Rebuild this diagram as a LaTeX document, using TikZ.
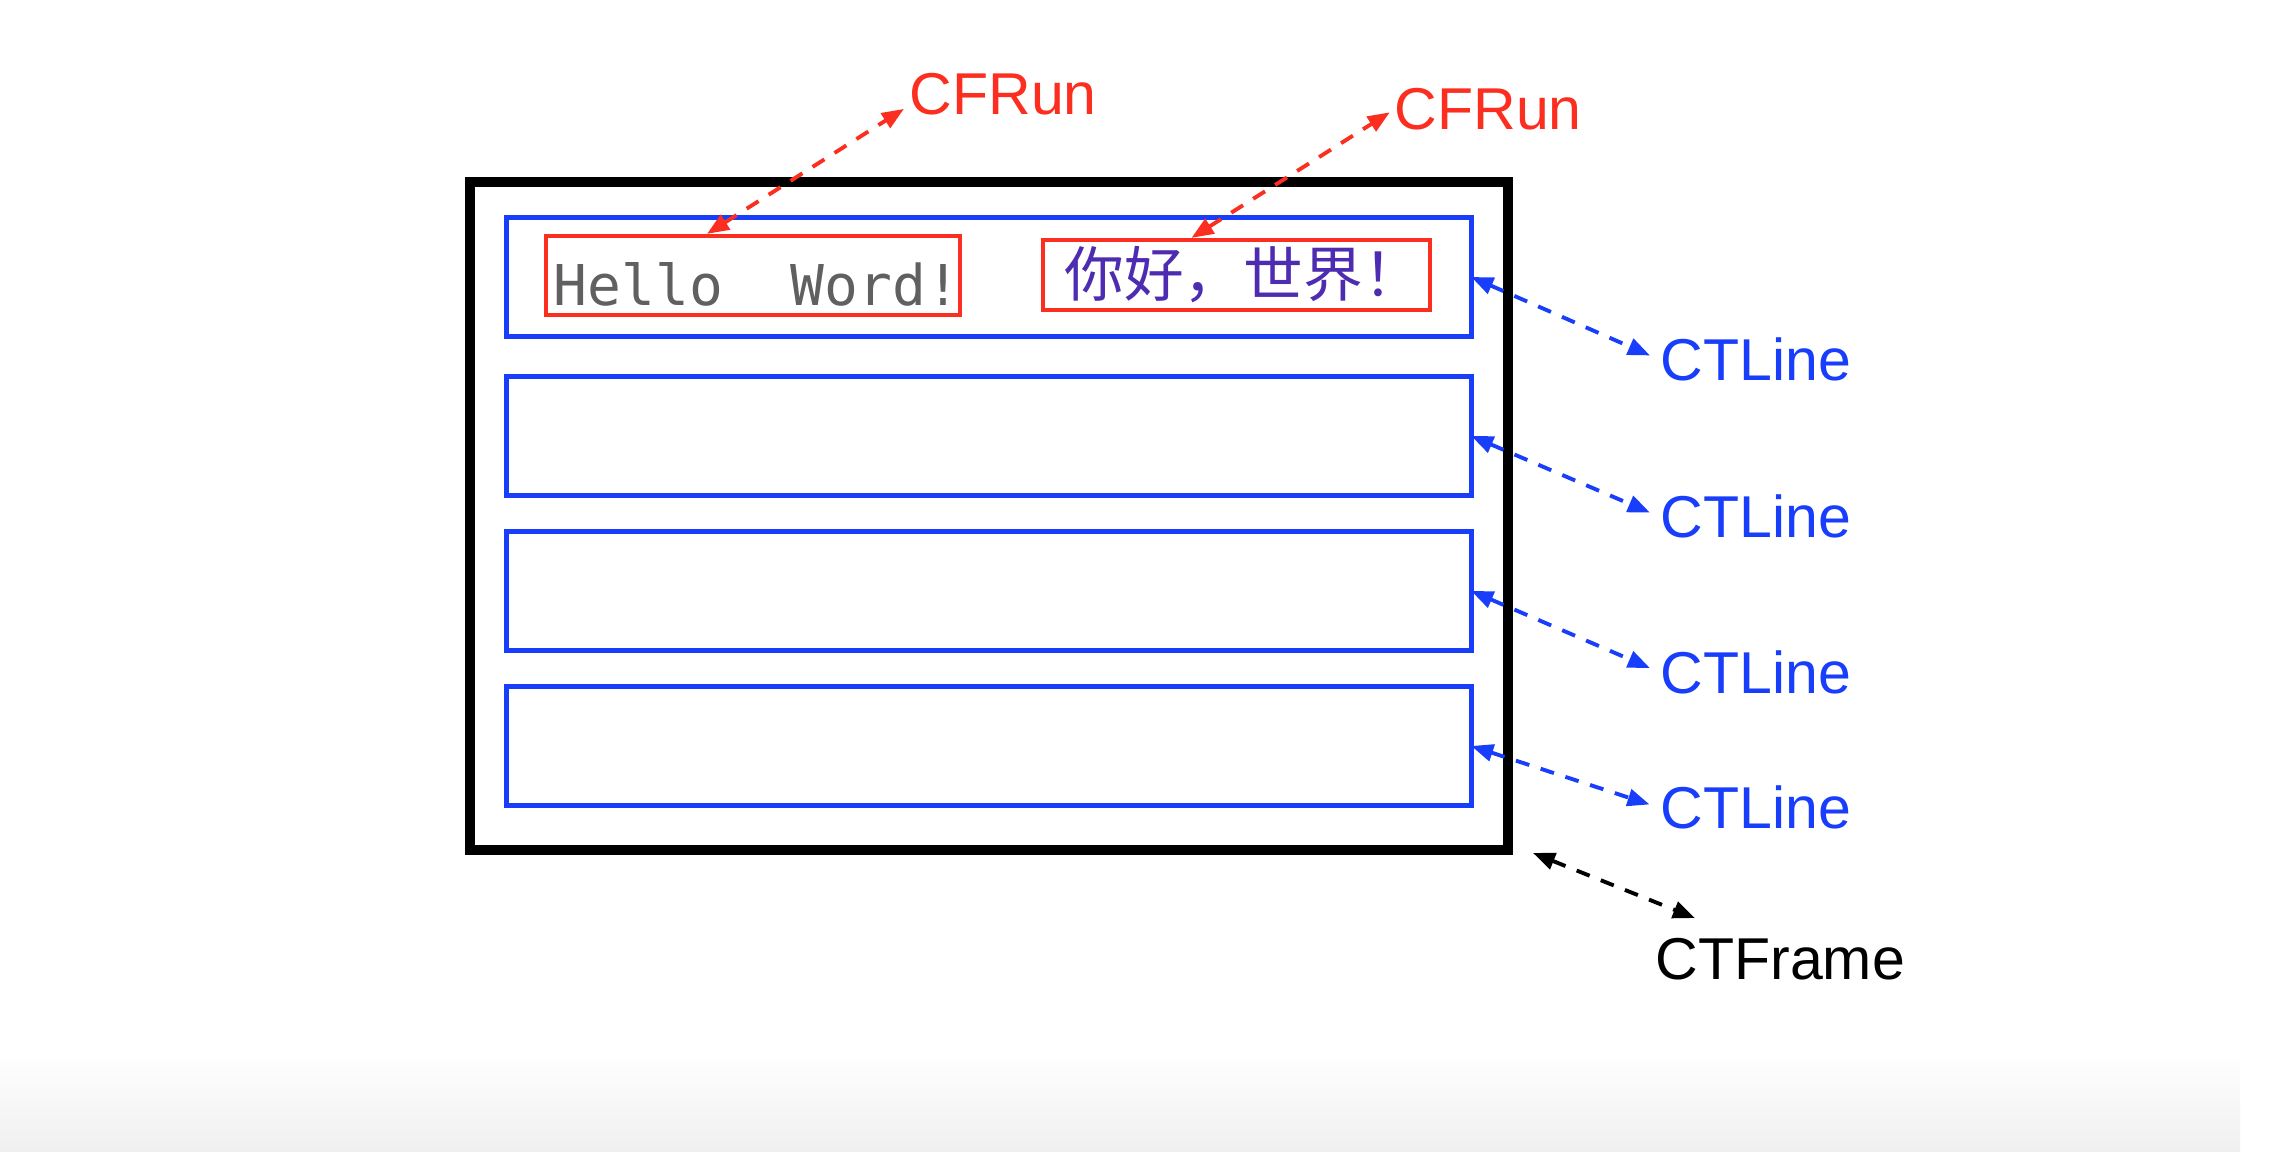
\documentclass[tikz,border=0pt]{standalone}
\usepackage{fontspec}
\setmainfont{Liberation Sans}
\newfontfamily\hellofont{DejaVu Sans Mono}
\newfontfamily\cjkfont{Noto Sans CJK SC}
\usetikzlibrary{arrows.meta,positioning}
\definecolor{lineblue}{RGB}{24,62,252}
\definecolor{runred}{RGB}{252,46,32}
\definecolor{hellogray}{RGB}{96,96,96}
\definecolor{cjkpurple}{RGB}{78,44,178}

\begin{document}
\begin{tikzpicture}[
  linebox/.style={draw=lineblue, line width=1.3pt, minimum width=9.645cm, minimum height=1.19cm, inner sep=0, outer sep=0},
  runbox/.style={draw=runred, line width=1.2pt, inner sep=0},
  tag/.style={font=\fontsize{16.8}{20}\selectfont, inner sep=0, anchor=base west},
  dashlink/.style={dash pattern=on 0.14cm off 0.12cm, line width=1.1pt,
    {Triangle[length=0.22cm,width=0.17cm]}-{Triangle[length=0.22cm,width=0.17cm]}},
]
\fill[white] (0,0) rectangle (22.88,11.52);
\useasboundingbox (0,0) rectangle (22.88,11.52);
\shade[top color=white, bottom color=black!6] (0,0) rectangle (22.4,1.0);

% frame and its lines
\node[draw, line width=0.1cm, minimum width=10.38cm, minimum height=6.68cm] (frame) at (9.89,6.36) {};
\node[linebox] (line1) at (9.89,8.75) {};
\node[linebox, below=0.40cm of line1] (line2) {};
\node[linebox, below=0.36cm of line2] (line3) {};
\node[linebox, below=0.36cm of line3] (line4) {};

% runs of the first line
\node[runbox, minimum width=4.14cm, minimum height=0.79cm, text height=0.6cm, text depth=0cm,
  font=\hellofont\fontsize{16}{19}\selectfont, text=hellogray] (run1) at (7.53,8.765)
  {\hspace{0.08cm}Hello\ \ Word!\hspace{-0.08cm}};
\node[runbox, minimum width=3.87cm, minimum height=0.70cm,
  font=\cjkfont\fontsize{17}{19}\selectfont, text=cjkpurple] (run2) at (12.365,8.77)
  {\hspace{0.14cm}\raisebox{-0.04cm}{你好，世界！}\hspace{-0.14cm}};

% labels
\node[tag, text=runred] (cfrun1) at (9.09,10.37) {CFRun};
\node[tag, text=runred] (cfrun2) at (13.94,10.22) {CFRun};
\node[tag, text=lineblue] (ctline1) at (16.60,7.71) {CTLine};
\node[tag, text=lineblue] (ctline2) at (16.60,6.14) {CTLine};
\node[tag, text=lineblue] (ctline3) at (16.60,4.585) {CTLine};
\node[tag, text=lineblue] (ctline4) at (16.60,3.23) {CTLine};
\node[tag] (ctframe) at (16.55,1.72) {CTFrame};

\draw[dashlink, runred, shorten >=0.06cm] ([xshift=-0.46cm]run1.north) -- (cfrun1.mid west);
\draw[dashlink, runred, shorten >=0.05cm] ([xshift=-0.45cm]run2.north) -- (cfrun2.west);
\foreach \i in {1,...,4}
  \draw[dashlink, lineblue, shorten >=0.11cm] (line\i.east) -- (ctline\i.west);
\draw[dashlink] ([shift={(0.2,0.02)}]frame.south east) -- ([shift={(0.4,0.2)}]ctframe.north west);
\end{tikzpicture}
\end{document}
